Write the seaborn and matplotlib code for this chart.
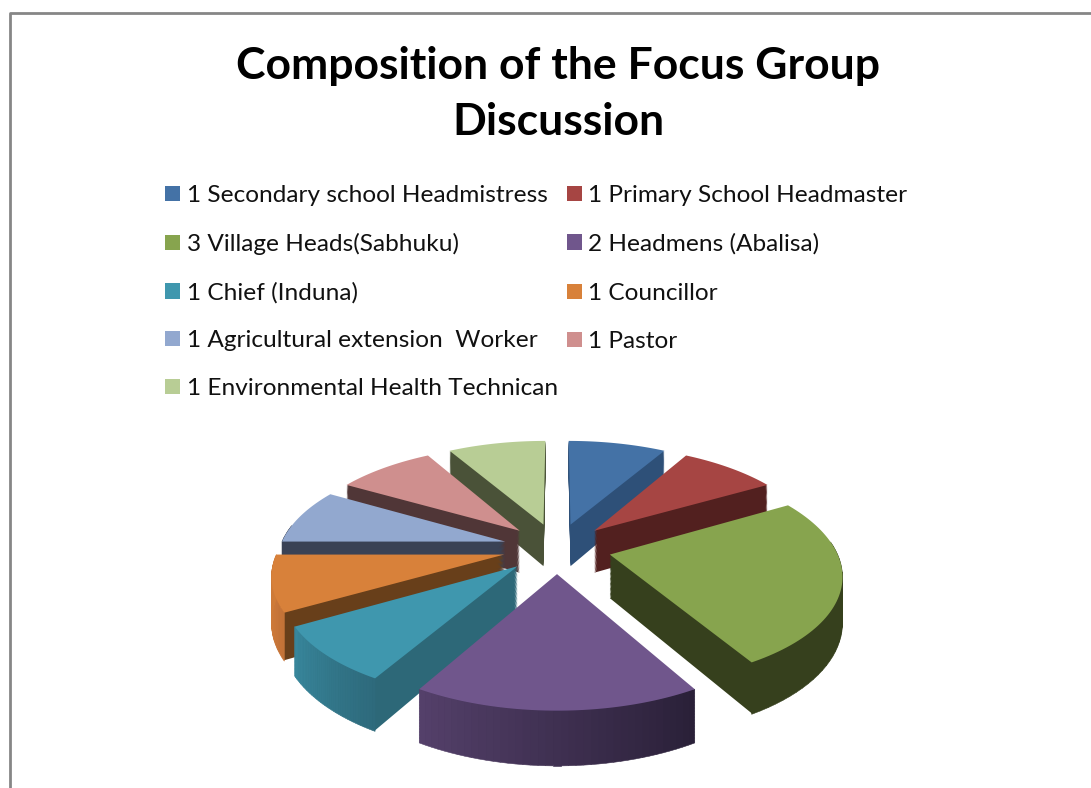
import numpy as np
import matplotlib
matplotlib.use("Agg")
import matplotlib.pyplot as plt
import seaborn as sns
from matplotlib.transforms import Transform, Affine2D
from matplotlib.path import Path
from matplotlib.patches import Patch
from matplotlib.colors import to_rgb

labels = ["1 Secondary school Headmistress", "1 Primary School Headmaster",
          "3 Village Heads(Sabhuku)", "2 Headmens (Abalisa)", "1 Chief (Induna)",
          "1 Councillor", "1 Agricultural extension  Worker", "1 Pastor",
          "1 Environmental Health Technican"]
counts = [1, 1, 3, 2, 1, 1, 1, 1, 1]
top_colors = ["#4472a6", "#a64543", "#87a44e", "#70568c", "#3f97ae",
              "#d8813a", "#92a8cf", "#cf8f8e", "#b8cd95"]
wall_colors = ["#2e5078", "#52201f", "#36401d", "#3a2c50", "#2d6878",
               "#683f1a", "#3a4255", "#503637", "#4a5238"]
rim_left = ["#2e5078", "#52201f", "#36401d", "#54406a", "#38879c",
            "#d07c38", "#3a4255", "#503637", "#4a5238"]
rim_right = ["#2e5078", "#52201f", "#36401d", "#2a2038", "#2e6a7c",
             "#c8763a", "#3a4255", "#503637", "#4a5238"]

EXPLODE = 0.24
CX, CY, A, B, K, DEPTH = 557.0, 548.0, 225.5, 104.5, 0.164, 44.0
N_LAYERS = 36

sns.set_theme(style="white")
plt.rcParams["font.family"] = ["Lato", "DejaVu Sans"]


def project(xy, z=0.0):
    xy = np.asarray(xy, dtype=float)
    w = 1 + K * xy[:, 1]
    return np.column_stack([CX + A * xy[:, 0] / w,
                            CY - B * xy[:, 1] / w + DEPTH * z / w])


class Perspective(Transform):
    input_dims = output_dims = 2
    is_separable = False
    has_inverse = False

    def __init__(self, z=0.0):
        super().__init__()
        self.z = z

    def transform_non_affine(self, values):
        return project(values, self.z)

    def transform_path_non_affine(self, path):
        # flatten the arcs first, so that the projected outline stays exact
        poly = path.to_polygons(Affine2D().scale(2000), closed_only=True)[0] / 2000
        return Path(project(poly, self.z), closed=True)


fig = plt.figure(figsize=(10.91, 7.88), dpi=100)
ax = fig.add_axes([0, 0, 1, 1])

explode = [EXPLODE] * len(counts)
fracs = np.array(counts) / sum(counts)
edges = 90 - 360 * np.concatenate([[0], np.cumsum(fracs)])
mids = np.radians((edges[:-1] + edges[1:]) / 2)
rank = np.argsort(np.argsort(-np.sin(mids)))   # back slices first

for z in np.linspace(0.98, 0, N_LAYERS):
    is_top = z == 0
    wedges, _ = ax.pie(counts, explode=explode, startangle=90, counterclock=False,
                       colors=top_colors if is_top else wall_colors, frame=True)
    for i, wd in enumerate(wedges):
        wd.set_transform(Perspective(z) + ax.transData)
        wd.set_zorder(1000 if is_top else rank[i] * 10 + 1)
        wd.set_linewidth(0)

# curved outer walls with a horizontal shading
for i in range(len(counts)):
    th = np.radians(np.linspace(edges[i], edges[i + 1], 40))
    c = EXPLODE * np.array([np.cos(mids[i]), np.sin(mids[i])])
    pts = np.column_stack([np.cos(th), np.sin(th)]) + c
    top, bot = project(pts, 0), project(pts, 1)
    c0, c1 = np.array(to_rgb(rim_left[i])), np.array(to_rgb(rim_right[i]))
    for j in range(len(th) - 1):
        if np.sin(th[j]) > 0.15:
            continue
        t = j / (len(th) - 2)
        col = c0 + (c1 - c0) * (t if top[-1, 0] > top[0, 0] else 1 - t)
        ax.fill([top[j, 0], top[j + 1, 0], bot[j + 1, 0], bot[j, 0]],
                [top[j, 1], top[j + 1, 1], bot[j + 1, 1], bot[j, 1]],
                color=col, lw=0.4, zorder=rank[i] * 10 + 2)

ax.set_aspect("auto")
ax.set_xlim(0, 1091)
ax.set_ylim(788, 0)
ax.axis("off")

ax.plot([10, 10, 1091], [788, 13, 13], color="#868686", lw=2, clip_on=False, zorder=1)

ax.text(558, 94, "Composition of the Focus Group\nDiscussion", ha="center", va="center",
        fontsize=32, fontweight="bold", color="black", linespacing=1.5)

handles = [Patch(facecolor=c, edgecolor="none") for c in top_colors]
order = [0, 2, 4, 6, 8, 1, 3, 5, 7]
leg = ax.legend([handles[i] for i in order], [labels[i] for i in order], ncol=2,
                loc="upper left", bbox_to_anchor=(165, 185), bbox_transform=ax.transData,
                frameon=False, fontsize=17.6, handlelength=0.6, handleheight=0.6,
                handletextpad=0.28, labelspacing=1.1, columnspacing=0.38,
                borderpad=0, borderaxespad=0, labelcolor="#111111")

# rows without brackets come out shorter: bring those entries back onto the row
for txt, hnd in zip(leg.get_texts(), leg.legend_handles):
    if txt.get_text() in ("1 Councillor", "1 Pastor"):
        txt.set_y(txt.get_position()[1] - 2)
        hnd.set_y(hnd.get_y() - 1.44)

fig.savefig("out.png", dpi=100, facecolor="white")
